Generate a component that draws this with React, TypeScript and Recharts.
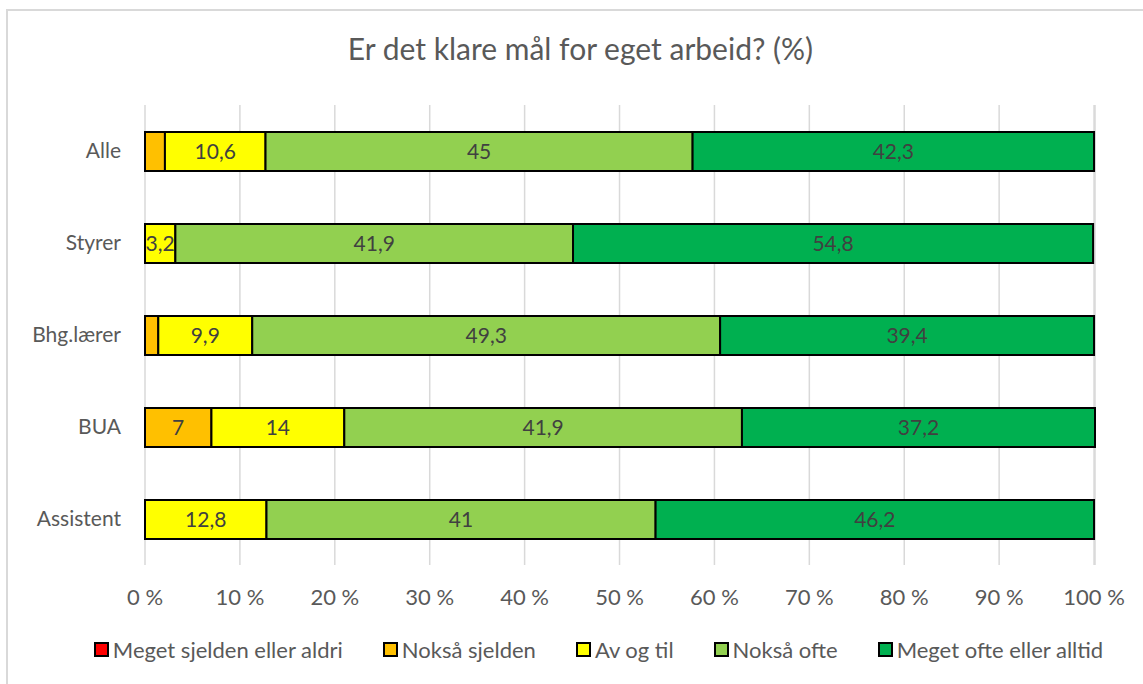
import React from "react";
import { BarChart, Bar, XAxis, YAxis, CartesianGrid, LabelList, Legend } from "recharts";

const categories = ["Alle", "Styrer", "Bhg.lærer", "BUA", "Assistent"];
const meget_sjelden = [0, 0, 0, 0, 0];
const noksa_sjelden = [2.1, 0, 1.4, 7, 0];
const av_og_til = [10.6, 3.2, 9.9, 14, 12.8];
const noksa_ofte = [45, 41.9, 49.3, 41.9, 41];
const meget_ofte = [42.3, 54.8, 39.4, 37.2, 46.2];
const xTicks = [0, 10, 20, 30, 40, 50, 60, 70, 80, 90, 100];

const seriesDefs = [
  { key: "s1", name: "Meget sjelden eller aldri", color: "#FF0000", values: meget_sjelden },
  { key: "s2", name: "Nokså sjelden", color: "#FFC000", values: noksa_sjelden },
  { key: "s3", name: "Av og til", color: "#FFFF00", values: av_og_til },
  { key: "s4", name: "Nokså ofte", color: "#92D050", values: noksa_ofte },
  { key: "s5", name: "Meget ofte eller alltid", color: "#00B050", values: meget_ofte },
];

const data = categories.map((c, i) => {
  const row: any = { cat: c };
  seriesDefs.forEach((s) => (row[s.key] = s.values[i]));
  return row;
});

const FONT = "Lato, 'Open Sans', sans-serif";

const fmt = (v: any) => (typeof v === "number" && v >= 3 ? String(v).replace(".", ",") : "");

const LegendContent = () => (
  <div
    style={{
      display: "flex",
      justifyContent: "center",
      fontFamily: FONT,
      fontSize: 22,
      color: "#595959",
      paddingLeft: 54,
    }}
  >
    {seriesDefs.map((s, i) => (
      <div key={s.key} style={{ display: "flex", alignItems: "center", marginRight: i < 4 ? 40 : 0 }}>
        <span
          style={{
            display: "inline-block",
            width: 11,
            height: 11,
            background: s.color,
            border: "2px solid #000",
            marginRight: 4,
          }}
        />
        <span>{s.name}</span>
      </div>
    ))}
  </div>
);

export default function App() {
  return (
    <div style={{ position: "absolute", left: 0, top: 0, width: 1143, height: 684, overflow: "hidden", background: "#fff" }}>
      <div
        style={{
          position: "absolute",
          left: 6,
          top: 9,
          width: 1300,
          height: 900,
          border: "2px solid #d9d9d9",
          boxSizing: "border-box",
        }}
      />
      <div
        style={{
          position: "absolute",
          left: 9,
          width: 1143,
          top: 30,
          textAlign: "center",
          fontFamily: FONT,
          fontSize: 30,
          color: "#595959",
        }}
      >
        Er det klare mål for eget arbeid? (%)
      </div>
      <div style={{ position: "absolute", left: 0, top: 0 }}>
        <BarChart
          width={1143}
          height={684}
          data={data}
          layout="vertical"
          margin={{ top: 105, right: 48, bottom: 89, left: 0 }}
          barSize={39}
        >
          <CartesianGrid horizontal={false} stroke="#d9d9d9" strokeWidth={1.5} />
          <XAxis
            type="number"
            domain={[0, 100]}
            ticks={xTicks}
            tickFormatter={(v) => `${v} %`}
            axisLine={false}
            tickLine={false}
            height={30}
            tickMargin={18}
            tick={{ fill: "#595959", fontSize: 22, fontFamily: FONT }}
            interval={0}
          />
          <YAxis
            type="category"
            dataKey="cat"
            width={145}
            axisLine={false}
            tickLine={false}
            tickSize={0}
            tickMargin={24}
            tick={{ fill: "#595959", fontSize: 21, fontFamily: FONT }}
          />
          {seriesDefs.map((s) => (
            <Bar
              key={s.key}
              dataKey={s.key}
              name={s.name}
              stackId="a"
              fill={s.color}
              stroke="#000"
              strokeWidth={2}
              isAnimationActive={false}
            >
              <LabelList
                dataKey={s.key}
                position="center"
                formatter={fmt}
                style={{ fill: "#404040", fontSize: 21, fontFamily: FONT }}
              />
            </Bar>
          ))}
          <Legend
            layout="horizontal"
            verticalAlign="middle"
            align="center"
            content={<LegendContent />}
            wrapperStyle={{ position: "absolute", top: 636, left: 0, width: 1143 }}
          />
        </BarChart>
      </div>
    </div>
  );
}
